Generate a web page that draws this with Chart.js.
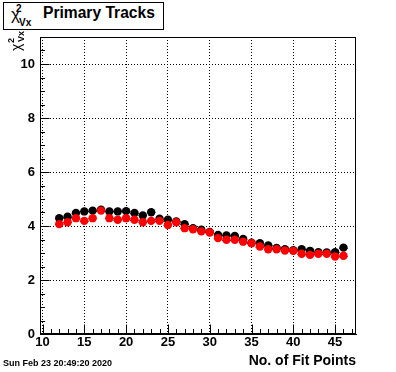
<!DOCTYPE html>
<html>
<head>
<meta charset="utf-8">
<script src="https://cdn.jsdelivr.net/npm/chart.js@4.4.1/dist/chart.umd.min.js"></script>
<style>
  html, body { margin: 0; padding: 0; background: #fff; }
  #wrap { position: relative; width: 396px; height: 372px; font-family: "Liberation Sans", Arial, sans-serif; color: #000; }
  #c { position: absolute; left: 0; top: 0; }
  .t { position: absolute; white-space: nowrap; line-height: 1; }
  #titlebox { position: absolute; left: 3px; top: 2px; width: 159px; height: 26px; border: 1px solid #000; background: #fff; }
  #ytitle { position: absolute; left: 8px; top: 51px; width: 24px; height: 18px; transform-origin: 0 0; transform: rotate(-90deg); }
</style>
</head>
<body>
<div id="wrap">
  <canvas id="c" width="396" height="372"></canvas>
  <div id="titlebox"></div>
  <span class="t" style="left:11px; top:6px; font-size:17px;">χ</span>
  <span class="t" style="left:16px; top:4px; font-size:10px; font-weight:bold;">2</span>
  <span class="t" style="left:19px; top:18px; font-size:10px; font-weight:bold;">Vx</span>
  <span class="t" style="left:43px; top:5px; font-size:15.6px; font-weight:bold;">Primary Tracks</span>
  <div id="ytitle">
    <span class="t" style="left:0px; top:1px; font-size:14px;">χ</span>
    <span class="t" style="left:8px; top:-1px; font-size:9px; font-weight:bold;">2</span>
    <span class="t" style="left:9px; top:9px; font-size:9px; font-weight:bold;">Vx</span>
  </div>
  <span class="t" style="left:3px; top:359px; font-size:9px; font-weight:bold;">Sun Feb 23 20:49:20 2020</span>
</div>
<script>
// number of fit points (x) and the two chi2 series
var fitPoints = [12, 13, 14, 15, 16, 17, 18, 19, 20, 21, 22, 23, 24, 25, 26, 27, 28, 29,
                 30, 31, 32, 33, 34, 35, 36, 37, 38, 39, 40, 41, 42, 43, 44, 45, 46];
var chi2Black = [4.29, 4.34, 4.48, 4.54, 4.57, 4.60, 4.54, 4.54, 4.55, 4.48, 4.39, 4.51,
                 4.27, 4.23, 4.17, 4.07, 3.92, 3.86, 3.78, 3.67, 3.65, 3.63, 3.52, 3.38,
                 3.36, 3.28, 3.19, 3.14, 3.10, 3.14, 3.08, 3.03, 3.02, 3.03, 3.20];
var chi2Red = [4.07, 4.14, 4.29, 4.19, 4.29, 4.57, 4.29, 4.23, 4.29, 4.23, 4.14, 4.19,
               4.19, 4.04, 4.14, 3.92, 3.88, 3.80, 3.76, 3.55, 3.49, 3.49, 3.42, 3.36,
               3.24, 3.14, 3.14, 3.09, 3.08, 2.97, 2.93, 2.97, 2.97, 2.87, 2.90];
var xTicks = [10, 15, 20, 25, 30, 35, 40, 45];
var yTicks = [0, 2, 4, 6, 8, 10];

function toPoints(ys) {
    return fitPoints.map(function (x, i) { return {x: x, y: ys[i]}; });
}

var tickFont = {family: '"Liberation Sans", Arial, sans-serif', size: 13, weight: 'bold'};

// ROOT style frame: box, inward ticks, horizontal error bars
var rootFrame = {
    id: 'rootFrame',
    beforeDatasetsDraw: function (chart) {
        var ctx = chart.ctx, x = chart.scales.x, y = chart.scales.y;
        ctx.save();
        ctx.strokeStyle = '#000';
        ctx.lineWidth = 1;
        chart.data.datasets.forEach(function (ds) {
            ds.data.forEach(function (p) {
                var py = Math.round(y.getPixelForValue(p.y)) + 0.5;
                ctx.beginPath();
                ctx.moveTo(x.getPixelForValue(p.x - 0.5), py);
                ctx.lineTo(x.getPixelForValue(p.x + 0.5), py);
                ctx.stroke();
            });
        });
        ctx.restore();
    },
    afterDraw: function (chart) {
        var ctx = chart.ctx, a = chart.chartArea, x = chart.scales.x, y = chart.scales.y;
        ctx.save();
        ctx.strokeStyle = '#000';
        ctx.lineWidth = 1;
        var l = Math.round(a.left) + 0.5, r = Math.round(a.right) - 0.5;
        var t = Math.round(a.top) + 0.5, b = Math.round(a.bottom) - 0.5;
        ctx.strokeRect(l, t, r - l, b - t);
        ctx.beginPath();
        for (var v = 10; v <= 47; v++) {
            var px = Math.round(x.getPixelForValue(v)) + 0.5;
            var len = v % 5 === 0 ? 9 : 4.5;
            ctx.moveTo(px, b);
            ctx.lineTo(px, b - len);
        }
        for (var w = 0; w <= 11; w += 0.5) {
            var py = Math.round(y.getPixelForValue(w)) + 0.5;
            var len2 = w % 2 === 0 ? 9 : 4.5;
            ctx.moveTo(l, py);
            ctx.lineTo(l + len2, py);
        }
        ctx.stroke();
        ctx.restore();
    }
};

new Chart(document.getElementById('c'), {
    type: 'scatter',
    data: {
        datasets: [
            {
                label: 'red',
                data: toPoints(chi2Red),
                backgroundColor: '#ff0000',
                borderColor: '#ff0000',
                borderWidth: 0,
                pointRadius: 4.2
            },
            {
                label: 'black',
                data: toPoints(chi2Black),
                backgroundColor: '#000000',
                borderColor: '#000000',
                borderWidth: 0,
                pointRadius: 4.2
            }
        ]
    },
    options: {
        responsive: false,
        animation: false,
        devicePixelRatio: 1,
        layout: {padding: {top: 37, right: 40, left: 0, bottom: 0}},
        plugins: {
            legend: {display: false},
            tooltip: {enabled: false}
        },
        scales: {
            x: {
                type: 'linear',
                min: 9.7,
                max: 47.5,
                afterBuildTicks: function (s) { s.ticks = xTicks.map(function (v) { return {value: v}; }); },
                afterFit: function (s) { s.height = 38; },
                ticks: {font: tickFont, color: '#000', padding: 1, maxRotation: 0, autoSkip: false},
                grid: {color: '#000', lineWidth: 1, drawTicks: false},
                border: {display: true, color: '#000', dash: [1, 2]},
                title: {
                    display: true,
                    text: 'No. of Fit Points',
                    align: 'end',
                    color: '#000',
                    font: {family: '"Liberation Sans", Arial, sans-serif', size: 14, weight: 'bold'},
                    padding: {top: 0, bottom: 2}
                }
            },
            y: {
                type: 'linear',
                min: 0,
                max: 11,
                afterBuildTicks: function (s) { s.ticks = yTicks.map(function (v) { return {value: v}; }); },
                afterFit: function (s) { s.width = 40; },
                ticks: {font: tickFont, color: '#000', padding: 5, autoSkip: false},
                grid: {color: '#000', lineWidth: 1, drawTicks: false},
                border: {display: true, color: '#000', dash: [1, 2]}
            }
        }
    },
    plugins: [rootFrame]
});
</script>
</body>
</html>
